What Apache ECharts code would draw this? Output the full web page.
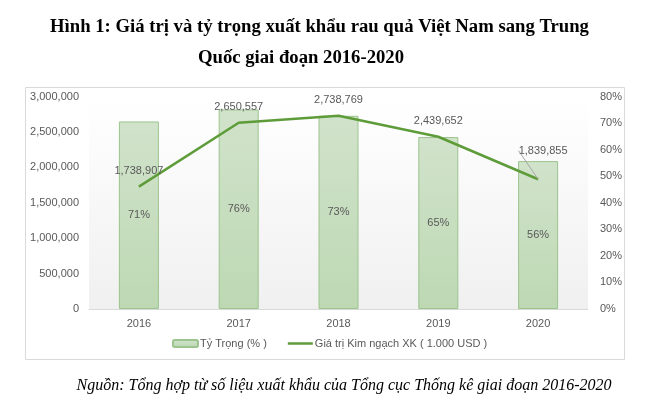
<!DOCTYPE html>
<html>
<head>
<meta charset="utf-8">
<script src="https://cdn.jsdelivr.net/npm/echarts@6/dist/echarts.min.js"></script>
<style>html,body{margin:0;padding:0;background:#fff}#c{width:646px;height:405px}</style>
</head>
<body>
<div id="c"></div>
<script>
const categories = ['2016', '2017', '2018', '2019', '2020'];
const barValues = [2650000, 2820000, 2730000, 2430000, 2090000];
const barLabels = ['71%', '76%', '73%', '65%', '56%'];
const lineValues = [46.1, 70.2, 72.8, 64.9, 48.9];
const lineLabels = ['1,738,907', '2,650,557', '2,738,769', '2,439,652', '1,839,855'];
const barName = 'Tỷ Trọng (% )';
const lineName = 'Giá trị Kim ngạch XK ( 1.000 USD )';
const titleLine1 = 'Hình 1: Giá trị và tỷ trọng xuất khẩu rau quả Việt Nam sang Trung';
const titleLine2 = 'Quốc giai đoạn 2016-2020';
const caption = 'Nguồn: Tổng hợp từ số liệu xuất khẩu của Tổng cục Thống kê giai đoạn 2016-2020';

const chart = echarts.init(document.getElementById('c'));
const txt = '#595959';
const font = 'Liberation Sans, Arial, sans-serif';
const fmt = v => v.toLocaleString('en-US');
const lineColor = '#5e9c3a';

const lineData = lineValues.map((v, i) => i === lineValues.length - 1
  ? { value: v, labelLine: { show: true, lineStyle: { color: '#a6a6a6', width: 1 } } }
  : v);

chart.setOption({
  animation: false,
  graphic: [
    { type: 'rect', z: -10, shape: { x: 25.5, y: 87.5, width: 599, height: 272 },
      style: { fill: 'none', stroke: '#d9d9d9', lineWidth: 1 } },
    { type: 'text', x: 319.5, y: 27, style: { text: titleLine1, font: 'bold 18.7px "Liberation Serif", serif',
      fill: '#000', textAlign: 'center', textVerticalAlign: 'middle' } },
    { type: 'text', x: 301, y: 58, style: { text: titleLine2, font: 'bold 18.7px "Liberation Serif", serif',
      fill: '#000', textAlign: 'center', textVerticalAlign: 'middle' } },
    { type: 'text', x: 344, y: 386, style: { text: caption, font: 'italic 16px "Liberation Serif", serif',
      fill: '#000', textAlign: 'center', textVerticalAlign: 'middle' } }
  ],
  grid: {
    left: 89, right: 58, top: 96.7, bottom: 96,
    show: true, borderWidth: 0,
    backgroundColor: new echarts.graphic.LinearGradient(0, 0, 0, 1, [
      { offset: 0, color: '#ffffff' }, { offset: 1, color: '#f0f0f0' }
    ])
  },
  legend: {
    left: 167, top: 333, itemWidth: 25, itemHeight: 7, itemGap: 21,
    textStyle: { color: txt, fontFamily: font, fontSize: 11, padding: [0, 0, 0, -3] },
    data: [barName, { name: lineName, icon: 'path://M0,0H100V10H0Z', itemStyle: { color: lineColor } }]
  },
  xAxis: {
    type: 'category', data: categories,
    axisLine: { lineStyle: { color: '#d9d9d9' } },
    axisTick: { show: false },
    axisLabel: { color: txt, fontFamily: font, fontSize: 11, margin: 9 }
  },
  yAxis: [
    { type: 'value', min: 0, max: 3000000, interval: 500000,
      splitLine: { show: false }, axisLine: { show: false }, axisTick: { show: false },
      axisLabel: { color: txt, fontFamily: font, fontSize: 11, margin: 10, formatter: v => fmt(v) } },
    { type: 'value', min: 0, max: 80, interval: 10,
      splitLine: { show: false }, axisLine: { show: false }, axisTick: { show: false },
      axisLabel: { color: txt, fontFamily: font, fontSize: 11, margin: 12, formatter: '{value}%' } }
  ],
  series: [
    { name: barName, type: 'bar', yAxisIndex: 0, data: barValues, barWidth: 40,
      itemStyle: {
        color: new echarts.graphic.LinearGradient(0, 0, 0, 1, [
          { offset: 0, color: '#d1e3cb' }, { offset: 1, color: '#bdd8b3' }
        ]),
        borderColor: '#9cc48e', borderWidth: 1
      },
      label: { show: true, position: 'inside', color: txt, fontFamily: font, fontSize: 11,
        formatter: p => barLabels[p.dataIndex] }
    },
    { name: lineName, type: 'line', yAxisIndex: 1, data: lineData, symbol: 'circle', symbolSize: 0,
      showSymbol: true,
      lineStyle: { color: lineColor, width: 2.5 }, itemStyle: { color: lineColor },
      label: { show: true, position: 'top', distance: 10, color: txt, fontFamily: font, fontSize: 11,
        formatter: p => lineLabels[p.dataIndex] },
      labelLine: { show: false },
      labelLayout: p => p.dataIndex === 4 ? { dx: 5, dy: -13 } : {}
    }
  ]
});
</script>
</body>
</html>
